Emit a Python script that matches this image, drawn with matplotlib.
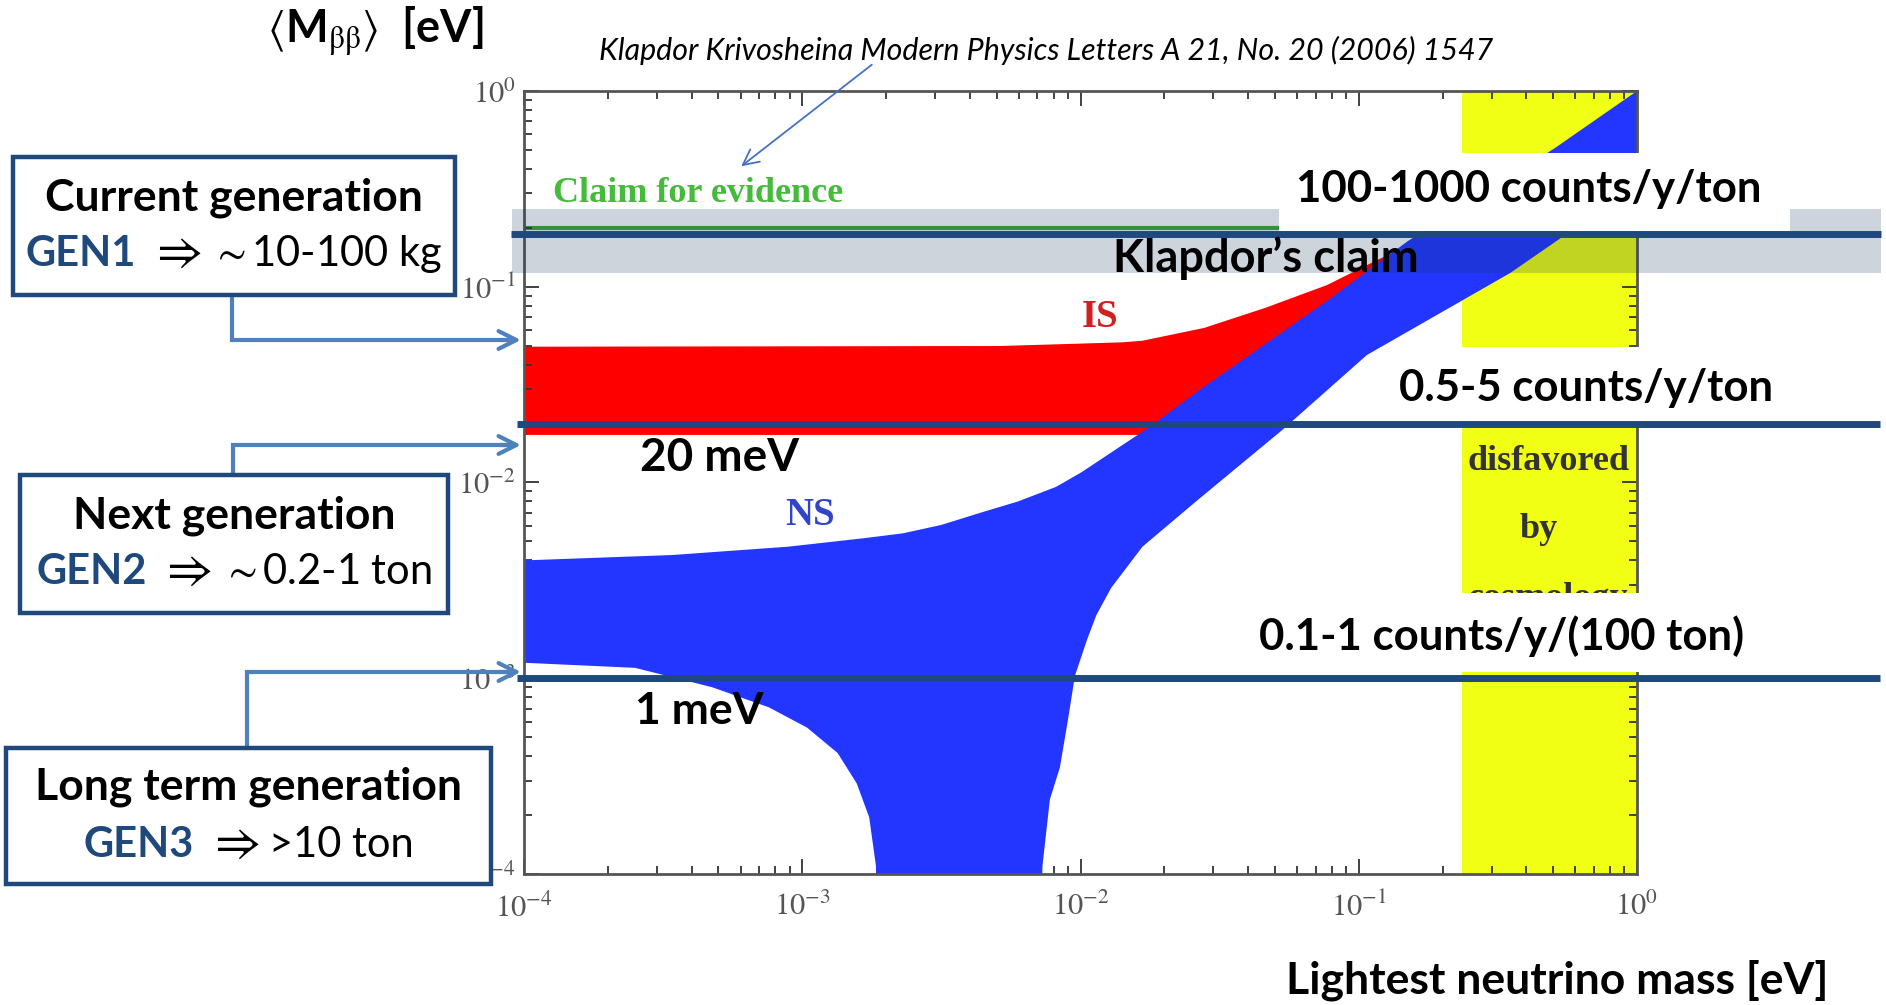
import numpy as np
import matplotlib
matplotlib.use("Agg")
import matplotlib.pyplot as plt
from matplotlib.patches import Rectangle, Polygon
from matplotlib.transforms import blended_transform_factory
from matplotlib.ticker import LogLocator, FuncFormatter, NullFormatter
from matplotlib.offsetbox import TextArea, HPacker, AnnotationBbox

plt.rcParams["mathtext.fontset"] = "stix"

# ---------------- data (eV) ----------------
# Normal spectrum (NS): upper boundary, left to right
ns_upper_x = [1e-4, 3.4e-4, 8.9e-4, 1.68e-3, 2.3e-3, 3.16e-3, 4.36e-3, 5.96e-3,
              8.17e-3, 1.01e-2, 1.76e-2, 2.75e-2, 7.69e-2, 0.150, 0.507, 1.0]
ns_upper_y = [4.0e-3, 4.26e-3, 4.7e-3, 5.2e-3, 5.5e-3, 6.07e-3, 7.0e-3, 8.0e-3,
              9.5e-3, 1.13e-2, 1.91e-2, 3.05e-2, 8.46e-2, 0.171, 0.511, 1.0]
# NS lower boundary, left to right (dips through the cancellation funnel)
ns_lower_x = [1e-4, 2.51e-4, 4.74e-4, 7.59e-4, 1.04e-3, 1.34e-3, 1.57e-3, 1.74e-3,
              1.84e-3, 1.86e-3, 7.2e-3, 7.3e-3, 7.76e-3, 8.43e-3, 9.01e-3, 9.55e-3,
              1.055e-2, 1.14e-2, 1.29e-2, 1.67e-2, 2.6e-2, 5.3e-2, 0.107, 0.35, 0.565, 1.0]
ns_lower_y = [1.2e-3, 1.13e-3, 9.0e-4, 7.1e-4, 5.6e-4, 4.15e-4, 2.9e-4, 1.95e-4,
              1.1e-4, 5e-5, 5e-5, 1.1e-4, 2.4e-4, 3.5e-4, 6.1e-4, 1.03e-3,
              1.57e-3, 2.1e-3, 2.9e-3, 4.7e-3, 8.0e-3, 1.85e-2, 4.48e-2, 0.1175, 0.188, 0.331]
# Inverted spectrum (IS)
is_upper_x = [1e-4, 5.14e-3, 1.41e-2, 1.67e-2, 2.78e-2, 4.6e-2, 7.69e-2, 0.107, 0.150, 0.185, 0.3, 1.0]
is_upper_y = [4.94e-2, 4.98e-2, 5.2e-2, 5.3e-2, 6.16e-2, 7.79e-2, 0.102, 0.129, 0.163, 0.184, 0.29, 0.9]
is_lower_x = [1e-4, 2e-2, 8e-2, 0.3, 1.0]
is_lower_y = [1.75e-2, 1.75e-2, 4e-2, 0.15, 0.5]

cosmo_limit = 0.235          # lightest mass disfavored by cosmology above this
claim_value = 0.2            # "Claim for evidence" line
klapdor_value = 0.187        # Klapdor's claim
klapdor_range = (0.1175, 0.249)
sens_values = [0.02, 0.001]  # sensitivity goals
sens_labels = ["20 meV", "1 meV"]
rate_labels = ["100-1000 counts/y/ton", "0.5-5 counts/y/ton", "0.1-1 counts/y/(100 ton)"]

gen_titles = ["Current generation", "Next generation", "Long term generation"]
gen_tags = ["GEN1", "GEN2", "GEN3"]
gen_mass = [r"$\sim$10-100 kg", r"$\sim$0.2-1 ton", ">10 ton"]

# ---------------- style ----------------
W, H = 1886, 1005
NAVY = "#1F497D"
ARROW = "#4F81BD"
BLUE = "#2236FF"
RED = "#FF0000"
YELLOW = "#F0FF14"
SANS = ["Lato", "DejaVu Sans"]
SERIF = ["Liberation Serif", "DejaVu Serif"]

fig = plt.figure(figsize=(W / 100, H / 100), dpi=100)
ax = fig.add_axes([524 / W, 1 - 874 / H, (1637 - 524) / W, (874 - 91) / H])
ax.set_xscale("log")
ax.set_yscale("log")
ax.set_xlim(1e-4, 1)
ax.set_ylim(1e-4, 1)

ax.axvspan(cosmo_limit, 1, color=YELLOW, lw=0, zorder=0.5)
ax.add_patch(Polygon(list(zip(is_upper_x + is_lower_x[::-1], is_upper_y + is_lower_y[::-1])),
                     closed=True, fc=RED, ec="none", zorder=1))
ax.axhline(claim_value, color="#3DAA35", lw=3, zorder=1.5)
ax.add_patch(Polygon(list(zip(ns_upper_x + ns_lower_x[::-1], ns_upper_y + ns_lower_y[::-1])),
                     closed=True, fc=BLUE, ec="none", zorder=2))

ax.text(1.27e-4, 0.301, "Claim for evidence", color="#44BB3A", family=SERIF,
        fontweight="bold", fontsize=26, ha="left", va="center", zorder=3)
ax.text(0.01175, 0.070, "IS", color="#D02020", family=SERIF, fontweight="bold",
        fontsize=28, ha="center", va="center", zorder=3)
ax.text(0.001067, 0.00682, "NS", color="#3344CC", family=SERIF, fontweight="bold",
        fontsize=28, ha="center", va="center", zorder=3)
for word, xv, yv in zip(["disfavored", "by", "cosmology"], [0.479, 0.445, 0.479],
                        [0.01273, 0.00572, 0.00257]):
    ax.text(xv, yv, word, color="#333333", family=SERIF,
            fontweight="bold", fontsize=26, ha="center", va="center", zorder=3)

def pow10(v, pos):
    return r"$10^{%d}$" % int(round(np.log10(v)))

for axis in (ax.xaxis, ax.yaxis):
    axis.set_major_locator(LogLocator(base=10, numticks=10))
    axis.set_major_formatter(FuncFormatter(pow10))
    axis.set_minor_locator(LogLocator(base=10, subs=np.arange(2, 10), numticks=100))
    axis.set_minor_formatter(NullFormatter())
ax.tick_params(which="both", direction="in", top=True, right=True, color="#333333", width=1.3)
ax.tick_params(which="major", length=11, labelsize=22, labelcolor="#555555")
ax.tick_params(which="minor", length=6)
ax.tick_params(axis="x", pad=13)
ax.tick_params(axis="y", pad=6)
for sp in ax.spines.values():
    sp.set_color("#555555")
    sp.set_linewidth(2)

# ---------------- overlay in figure pixels ----------------
ov = fig.add_axes([0, 0, 1, 1], zorder=5)
ov.set_xlim(0, W)
ov.set_ylim(H, 0)
ov.axis("off")
mix = blended_transform_factory(ov.transData, ax.transData)

# Klapdor band and line
ov.add_patch(Rectangle((512, klapdor_range[0]), 1881 - 512, klapdor_range[1] - klapdor_range[0],
                       transform=mix, fc="#14355A", alpha=0.21, ec="none", zorder=1))
# white label boxes
ov.add_patch(Rectangle((1279, 153), 1790 - 1279, 78, fc="white", ec="none", zorder=2))
ov.add_patch(Rectangle((1380, 347), W - 1380, 78, fc="white", ec="none", zorder=2))
ov.add_patch(Rectangle((1240, 593), W - 1240, 79, fc="white", ec="none", zorder=2))
ov.plot([511, 1881], [klapdor_value] * 2, transform=mix, color=NAVY, lw=5, zorder=3,
        solid_capstyle="butt")
for v in sens_values:
    ov.plot([517, 1880], [v, v], transform=mix, color=NAVY, lw=5, zorder=3,
            solid_capstyle="butt")

lab = dict(family=SANS, fontweight="bold", color="black", zorder=4, va="center")
ov.text(1266, 258, "Klapdor\u2019s claim", fontsize=32.5, ha="center", **lab)
for txt, (xc, yc) in zip(rate_labels, [(1529, 189), (1586, 388), (1502, 636)]):
    ov.text(xc, yc, txt, fontsize=31.5, ha="center", **lab)
ov.text(720, 458, sens_labels[0], fontsize=33, ha="center", **lab)
ov.text(699, 711, sens_labels[1], fontsize=32, ha="center", **lab)

# axis titles and reference
ov.text(375, 30, r"$\langle$M$_{\mathrm{\beta\beta}}$$\rangle$  [eV]", fontsize=32.5,
        ha="center", **lab)
ov.text(1557, 980, "Lightest neutrino mass [eV]", fontsize=32, ha="center", **lab)
ov.text(1046, 50, "Klapdor Krivosheina Modern Physics Letters A 21, No. 20 (2006) 1547",
        family=SANS, style="italic", fontsize=21.9, ha="center", va="center", zorder=4)
ov.annotate("", xy=(739, 168), xytext=(874, 63),
            arrowprops=dict(arrowstyle="->", color="#4472C4", lw=1.3, mutation_scale=28), zorder=4)

# generation boxes with connectors
boxes = [(13, 157, 455, 295), (20, 475, 448, 613), (6, 748, 491, 884)]
title_y = [198, 516, 787]
gen_y = [252, 570, 843]
conn = [(232, 295, 340), (233, 475, 445), (247, 748, 672)]
for i in range(3):
    x0, y0, x1, y1 = boxes[i]
    ov.add_patch(Rectangle((x0, y0), x1 - x0, y1 - y0, fc="white", ec=NAVY, lw=3.2, zorder=4))
    xc = (x0 + x1) / 2
    ov.text(xc, title_y[i], gen_titles[i], fontsize=32, ha="center", **lab)
    pack = HPacker(children=[
        TextArea(gen_tags[i], textprops=dict(color=NAVY, fontweight="bold", fontsize=30, family=SANS)),
        TextArea(r" $\Rightarrow$ ", textprops=dict(color="black", fontsize=36, family=SANS)),
        TextArea(gen_mass[i], textprops=dict(color="black", fontsize=30, family=SANS)),
    ], align="baseline", pad=0, sep=0)
    ab = AnnotationBbox(pack, (xc, gen_y[i]), xycoords="data", frameon=False,
                        box_alignment=(0.5, 0.5), zorder=5)
    ov.add_artist(ab)
    cx, cy0, cy1 = conn[i]
    ov.plot([cx, cx, 505], [cy0, cy1, cy1], color=ARROW, lw=3, zorder=3, solid_joinstyle="miter")
    ov.annotate("", xy=(521, cy1), xytext=(500, cy1),
                arrowprops=dict(arrowstyle="->", color=ARROW, lw=3, mutation_scale=32,
                                shrinkA=0, shrinkB=0), zorder=3)

fig.savefig("out.png", dpi=100, facecolor="white")
